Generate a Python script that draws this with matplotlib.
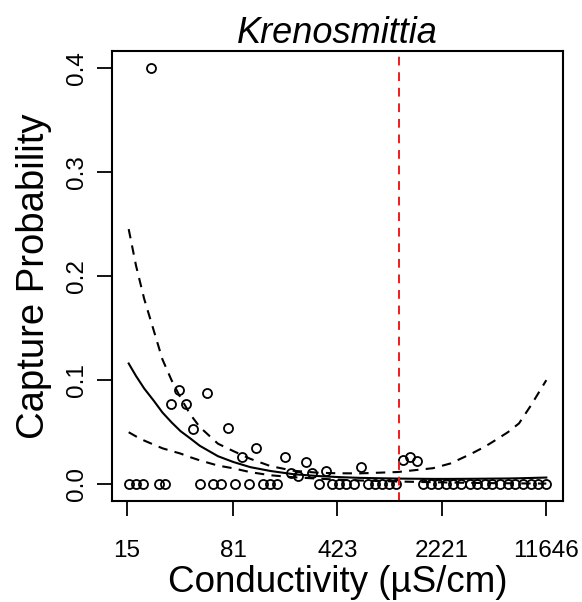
import numpy as np
import matplotlib.pyplot as plt

plt.rcParams['font.family'] = ['Liberation Sans', 'DejaVu Sans']

# observed capture probabilities (conductivity in uS/cm)
cond_pos = [22, 30, 34, 38, 43, 53, 75, 93, 117, 183, 202, 225, 256, 282,
            353, 619, 1194, 1335, 1495]
prob_pos = [0.400, 0.077, 0.091, 0.077, 0.053, 0.0875, 0.054, 0.026, 0.035,
            0.026, 0.0106, 0.0077, 0.021, 0.0106, 0.0125, 0.0165, 0.023,
            0.026, 0.022]
cond_zero = [15.4, 17.3, 19.4, 25.1, 27.6, 47.6, 58.6, 66.6, 83.4, 104, 129,
             144, 161, 316, 389, 435, 487, 553, 682, 762, 853, 954, 1068,
             1646, 1873, 2093, 2381, 2663, 3028, 3441, 3849, 4376, 4893,
             5559, 6325, 7072, 8040, 9146, 10233, 11646]

# fitted curve and confidence band
cond_fit = [15.4, 17.3, 19.7, 23, 26.3, 30.4, 35.1, 41, 47.6, 63.5, 80.8,
            106, 146, 211, 306, 422, 600, 1100, 1933, 2540, 3500, 4376, 5140,
            6325, 7550, 9146, 11646]
p_fit = [0.116, 0.104, 0.092, 0.080, 0.069, 0.0595, 0.051, 0.044, 0.037,
         0.027, 0.0215, 0.0165, 0.0128, 0.0097, 0.0080, 0.0070, 0.0062,
         0.0055, 0.0052, 0.0052, 0.0053, 0.0054, 0.0055, 0.0056, 0.0058,
         0.0061, 0.0065]
p_low = [0.050, 0.046, 0.042, 0.038, 0.0346, 0.032, 0.0295, 0.026, 0.023,
         0.018, 0.0154, 0.0117, 0.0087, 0.0068, 0.0055, 0.0045, 0.0037,
         0.0027, 0.0020, 0.0017, 0.0014, 0.0012, 0.0011, 0.0010, 0.0009,
         0.0008, 0.0007]
p_up = [0.245, 0.210, 0.178, 0.147, 0.120, 0.100, 0.083, 0.067, 0.055, 0.039,
        0.032, 0.0245, 0.0175, 0.013, 0.0112, 0.0106, 0.0105, 0.0118, 0.0155,
        0.020, 0.029, 0.036, 0.042, 0.050, 0.0585, 0.076, 0.100]

threshold = 1121
tick_vals = [15, 81, 423, 2221, 11646]

fig = plt.figure(figsize=(5.82, 6.02), dpi=100)
ax = fig.add_axes([0.1924, 0.1678, 0.7750, 0.7475])

ax.plot(cond_fit, p_fit, color='black', lw=1.5)
ax.plot(cond_fit, p_low, color='black', lw=1.5, dashes=(4.5, 3.5))
ax.plot(cond_fit, p_up, color='black', lw=1.5, dashes=(4.5, 3.5))
ax.plot(cond_pos, prob_pos, 'o', mfc='none', mec='black', ms=6.5, mew=1.3)
ax.plot(cond_zero, np.zeros(len(cond_zero)), 'o', mfc='none', mec='black',
        ms=6.5, mew=1.3)
ax.axvline(threshold, color='#ee1c1c', lw=1.4, dashes=(4.5, 3.5))

ax.set_xscale('log')
lo, hi = np.log(15.4), np.log(11646)
ext = 0.04 * (hi - lo)
ax.set_xlim(np.exp(lo - ext), np.exp(hi + ext))
ax.set_ylim(-0.016, 0.416)
ax.set_xticks(tick_vals)
ax.set_xticklabels([str(v) for v in tick_vals])
ax.xaxis.set_minor_locator(plt.NullLocator())
ax.set_yticks([0.0, 0.1, 0.2, 0.3, 0.4])
ax.set_yticklabels(['0.0', '0.1', '0.2', '0.3', '0.4'], rotation=90,
                   va='center')
ax.tick_params(length=11, width=1.3, labelsize=17.5)
ax.tick_params(axis='x', pad=17)
ax.tick_params(axis='y', pad=6)
for s in ax.spines.values():
    s.set_linewidth(1.5)

ax.set_xlabel('Conductivity (µS/cm)', fontsize=26.5, labelpad=2)
ax.set_ylabel('Capture Probability', fontsize=27.5, labelpad=10)
ax.set_title('Krenosmittia', fontsize=26, style='italic', pad=6)

fig.savefig('out.png', dpi=100)
